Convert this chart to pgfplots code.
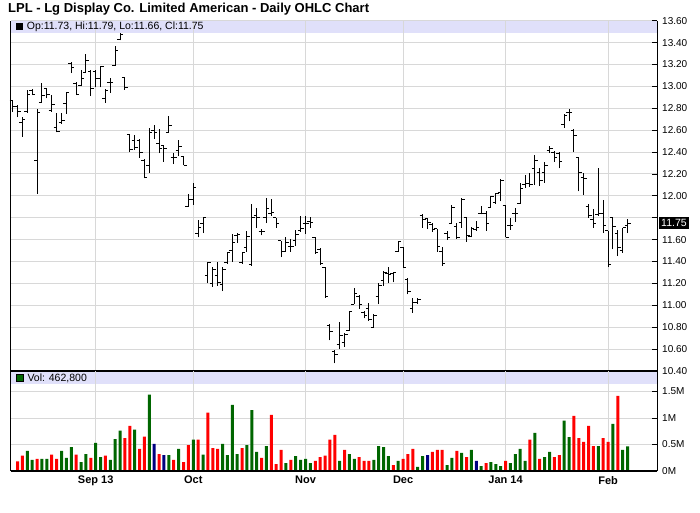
\documentclass[border=0pt]{standalone}
\usepackage{fontspec}
\setmainfont{Liberation Sans}
\usepackage{pgfplots}
\usepackage{pgfplotstable}
\pgfplotsset{compat=1.18}
\definecolor{bandc}{RGB}{224,224,250}
\definecolor{gridc}{RGB}{216,216,216}
\definecolor{vgreen}{RGB}{0,102,0}
\definecolor{vred}{RGB}{255,0,0}
\definecolor{vnavy}{RGB}{0,0,128}
\pgfdeclareplotmark{ohlcopen}{\pgfpathmoveto{\pgfqpoint{-3pt}{0pt}}\pgfpathlineto{\pgfqpoint{0pt}{0pt}}\pgfusepathqstroke}
\pgfdeclareplotmark{ohlcclose}{\pgfpathmoveto{\pgfqpoint{0pt}{0pt}}\pgfpathlineto{\pgfqpoint{3pt}{0pt}}\pgfusepathqstroke}
\pgfdeclareplotmark{nothing}{}

\pgfplotstableread{
i o h l c
0 12.87 12.88 12.77 12.82
1 12.82 12.83 12.72 12.77
2 12.67 12.72 12.54 12.70
3 12.77 12.97 12.76 12.93
4 12.96 12.98 12.92 12.93
5 12.32 12.79 12.02 12.76
6 12.85 13.03 12.85 12.92
7 12.98 12.98 12.89 12.93
8 12.78 12.92 12.77 12.83
9 12.62 12.76 12.58 12.59
10 12.67 12.76 12.66 12.69
11 12.84 12.95 12.75 12.94
12 13.21 13.22 13.12 13.17
13 13.03 13.04 12.92 12.93
14 13.01 13.15 13.00 13.07
15 13.13 13.30 13.13 13.24
16 13.14 13.15 12.91 12.98
17 13.14 13.15 12.99 13.07
18 13.07 13.19 12.99 13.18
19 12.89 12.98 12.85 12.96
20 13.04 13.08 12.94 13.04
21 13.19 13.37 13.19 13.33
22 13.43 13.49 13.42 13.47
23 13.08 13.08 12.97 12.99
24 12.56 12.56 12.40 12.42
25 12.51 12.56 12.42 12.44
26 12.51 12.52 12.35 12.40
27 12.32 12.34 12.16 12.17
28 12.28 12.62 12.21 12.58
29 12.60 12.65 12.52 12.58
30 12.48 12.61 12.39 12.43
31 12.46 12.46 12.31 12.43
32 12.58 12.73 12.58 12.64
33 12.35 12.39 12.29 12.35
34 12.41 12.51 12.36 12.45
35 12.36 12.36 12.28 12.28
36 11.90 12.02 11.90 11.97
37 11.97 12.12 11.92 12.08
38 11.66 11.78 11.62 11.71
39 11.75 11.80 11.66 11.80
40 11.27 11.40 11.20 11.39
41 11.20 11.35 11.17 11.33
42 11.27 11.40 11.18 11.21
43 11.19 11.35 11.13 11.33
44 11.39 11.49 11.38 11.48
45 11.50 11.65 11.40 11.57
46 11.64 11.66 11.57 11.65
47 11.39 11.49 11.38 11.48
48 11.53 11.68 11.49 11.63
49 11.37 11.93 11.36 11.80
50 11.82 11.89 11.71 11.80
51 11.67 11.70 11.64 11.67
52 11.80 11.98 11.75 11.88
53 11.84 11.97 11.82 11.85
54 11.80 11.80 11.71 11.75
55 11.59 11.59 11.44 11.49
56 11.49 11.62 11.49 11.57
57 11.54 11.61 11.49 11.54
58 11.59 11.69 11.54 11.65
59 11.68 11.82 11.67 11.70
60 11.75 11.82 11.65 11.75
61 11.77 11.81 11.71 11.76
62 11.62 11.62 11.47 11.48
63 11.51 11.52 11.37 11.38
64 11.35 11.35 11.07 11.08
65 10.82 10.83 10.68 10.76
66 10.58 10.59 10.47 10.55
67 10.64 10.85 10.60 10.72
68 10.66 10.75 10.62 10.73
69 10.77 10.95 10.77 10.94
70 11.01 11.16 11.01 11.11
71 11.08 11.09 10.97 11.01
72 10.93 10.95 10.88 10.91
73 10.97 11.02 10.86 10.87
74 10.80 10.92 10.80 10.91
75 11.08 11.20 11.01 11.18
76 11.23 11.31 11.18 11.30
77 11.29 11.35 11.20 11.28
78 11.29 11.30 11.21 11.30
79 11.49 11.59 11.49 11.58
80 11.53 11.53 11.35 11.35
81 11.24 11.25 11.10 11.13
82 10.97 11.07 10.93 11.03
83 11.03 11.07 11.01 11.05
84 11.82 11.83 11.71 11.78
85 11.79 11.80 11.70 11.76
86 11.74 11.75 11.67 11.69
87 11.70 11.70 11.49 11.54
88 11.49 11.53 11.36 11.38
89 11.66 11.68 11.60 11.62
90 11.75 11.92 11.75 11.89
91 11.72 11.75 11.61 11.62
92 11.76 11.98 11.71 11.97
93 11.80 11.81 11.58 11.64
94 11.63 11.72 11.62 11.70
95 11.69 11.77 11.68 11.71
96 11.84 11.91 11.83 11.84
97 11.84 11.86 11.68 11.75
98 11.89 12.00 11.89 11.99
99 11.94 12.03 11.93 12.02
100 12.03 12.15 11.95 12.14
101 11.91 11.91 11.62 11.62
102 11.73 11.80 11.69 11.73
103 11.84 11.89 11.76 11.84
104 11.93 12.12 11.93 12.07
105 12.10 12.19 12.07 12.11
106 12.11 12.21 12.08 12.10
107 12.25 12.37 12.10 12.32
108 12.21 12.25 12.09 12.14
109 12.21 12.31 12.12 12.28
110 12.41 12.46 12.39 12.43
111 12.40 12.41 12.31 12.35
112 12.39 12.40 12.25 12.31
113 12.65 12.75 12.62 12.73
114 12.76 12.79 12.68 12.76
115 12.60 12.61 12.40 12.55
116 12.35 12.35 12.04 12.21
117 12.17 12.21 12.01 12.16
118 11.90 11.93 11.80 11.82
119 11.78 11.88 11.71 11.75
120 11.83 12.25 11.82 11.84
121 11.84 11.96 11.66 11.73
122 11.68 11.68 11.35 11.37
123 11.80 11.80 11.51 11.72
124 11.66 11.69 11.45 11.53
125 11.50 11.71 11.48 11.71
126 11.73 11.79 11.66 11.75
}\price

\begin{document}
\begin{tikzpicture}
\path[use as bounding box] (0pt,0pt) rectangle (700pt,-512pt);
\fill[bandc] (10.7pt,-20.7pt) rectangle (657pt,-32.5pt);
\fill[bandc] (10.7pt,-371.5pt) rectangle (657pt,-384pt);
\node[anchor=west, inner sep=0pt, font=\bfseries\fontsize{13}{15}\selectfont] at (8pt,-9pt) {LPL - Lg Display Co. Limited American - Daily OHLC Chart};

\begin{axis}[
  at={(10.7pt,-20.7pt)}, anchor=north west,
  scale only axis, width=646.3pt, height=350.3pt,
  xmin=-0.41, xmax=132.03, ymin=10.4, ymax=13.6,
  axis line style={draw=none},
  clip=false,
  xtick={17,37,60,80,101,122}, xticklabels={},
  xtick style={draw=none},
  ytick={10.4,10.6,10.8,11.0,11.2,11.4,11.6,11.8,12.0,12.2,12.4,12.6,12.8,13.0,13.2,13.4,13.6},
  yticklabels={10.40,10.60,10.80,11.00,11.20,11.40,11.60,{},12.00,12.20,12.40,12.60,12.80,13.00,13.20,13.40,13.60},
  ytick pos=right, yticklabel pos=right,
  tick align=inside, major tick length=5pt,
  ytick style={black, line width=0.8pt},
  yticklabel style={font=\fontsize{10}{12}\selectfont, anchor=west, inner sep=0pt, xshift=5pt},
  grid=major, major grid style={gridc, line width=1pt},
]
\addplot[only marks, mark=nothing, black, line width=1pt,
  error bars/.cd, y dir=plus, y explicit, error mark=none,
  error bar style={black, line width=1pt}]
  table[x=i, y=l, y error expr=\thisrow{h}-\thisrow{l}] {\price};
\addplot[only marks, mark=ohlcopen, mark options={black, line width=1pt}] table[x=i, y=o] {\price};
\addplot[only marks, mark=ohlcclose, mark options={black, line width=1pt}] table[x=i, y=c] {\price};
\draw[black, line width=1pt] (rel axis cs:0,0) -- (rel axis cs:0,1);
\draw[black, line width=1pt] (rel axis cs:1,0) -- (rel axis cs:1,1);
\draw[black, line width=2pt] (rel axis cs:0,0) -- (rel axis cs:1,0);
\node[fill=black, text=white, anchor=west, inner xsep=2pt, inner ysep=2.5pt, font=\fontsize{10.5}{12}\selectfont] at (axis cs:132.03,11.75) [xshift=2pt] {11.75};
\end{axis}

\node[anchor=west, inner sep=0pt, font=\fontsize{10.5}{12}\selectfont] at (15.7pt,-27pt)
  {\tikz\fill[black] (0,0) rectangle (6.6pt,6.6pt);\hspace{4.4pt}Op:11.73, Hi:11.79, Lo:11.66, Cl:11.75};
\node[anchor=west, inner sep=0pt, font=\fontsize{10.5}{12}\selectfont] at (15.7pt,-378pt)
  {\tikz\filldraw[fill=vgreen, draw=black, line width=0.6pt] (0,0) rectangle (6.6pt,6.6pt);\hspace{4.4pt}Vol: 462,800};

\begin{axis}[
  at={(10.7pt,-371pt)}, anchor=north west,
  scale only axis, width=646.3pt, height=100pt,
  xmin=-0.41, xmax=132.03, ymin=0, ymax=1.887,
  axis line style={draw=none},
  clip=false,
  xtick={17,37,60,80,101,122},
  xticklabels={Sep 13,Oct,Nov,Dec,Jan 14,Feb},
  xtick style={draw=none},
  xticklabel style={font=\bfseries\fontsize{11}{13}\selectfont, anchor=north, inner sep=0pt, yshift=-5pt},
  ytick={0,0.5,1,1.5}, yticklabels={0M,0.5M,1M,1.5M},
  ytick pos=right, yticklabel pos=right,
  tick align=inside, major tick length=5pt,
  ytick style={black, line width=0.8pt},
  yticklabel style={font=\fontsize{10}{12}\selectfont, anchor=west, inner sep=0pt, xshift=5pt},
  grid=major, major grid style={gridc, line width=1pt},
]
\addplot[ybar, bar width=3pt, bar shift=0pt, fill=vgreen, draw=none] coordinates {
(3,0.38) (4,0.21) (6,0.23) (7,0.23) (10,0.38) (11,0.25) (12,0.45) (14,0.17) (15,0.32) (17,0.53) (18,0.26) (20,0.21) (21,0.60) (22,0.76) (25,0.78) (28,1.44) (32,0.30) (34,0.42) (37,0.59) (39,0.31) (43,0.51) (44,0.30) (45,1.25) (46,0.32) (48,0.49) (49,1.15) (50,0.36) (52,0.47) (56,0.15) (58,0.28) (59,0.21) (60,0.23) (61,0.15) (67,0.19) (69,0.32) (70,0.23) (74,0.21) (75,0.47) (76,0.45) (77,0.28) (79,0.19) (83,0.08) (84,0.28) (89,0.11) (90,0.25) (92,0.34) (94,0.40) (96,0.09) (98,0.17) (99,0.13) (100,0.09) (102,0.15) (103,0.32) (104,0.42) (105,0.19) (107,0.72) (109,0.26) (110,0.36) (113,0.95) (114,0.64) (120,0.47) (123,0.89) (125,0.40) (126,0.4628)};
\addplot[ybar, bar width=3pt, bar shift=0pt, fill=vred, draw=none] coordinates {
(1,0.18) (2,0.29) (5,0.23) (8,0.31) (9,0.23) (13,0.31) (16,0.25) (19,0.29) (23,0.62) (24,0.85) (26,0.42) (27,0.65) (30,0.32) (33,0.21) (35,0.17) (36,0.49) (38,0.59) (40,1.10) (41,0.43) (42,0.42) (47,0.43) (51,0.25) (53,1.06) (54,0.13) (55,0.40) (57,0.21) (62,0.19) (63,0.26) (64,0.29) (65,0.59) (66,0.68) (68,0.40) (71,0.26) (72,0.19) (73,0.19) (78,0.11) (80,0.23) (81,0.32) (82,0.42) (86,0.36) (87,0.40) (88,0.40) (91,0.38) (93,0.26) (97,0.15) (101,0.19) (106,0.59) (108,0.23) (111,0.26) (112,0.30) (115,1.04) (116,0.62) (117,0.55) (118,0.85) (119,0.47) (121,0.62) (122,0.55) (124,1.42)};
\addplot[ybar, bar width=3pt, bar shift=0pt, fill=vnavy, draw=none] coordinates {
(29,0.51) (31,0.30) (85,0.30) (95,0.19)};
\draw[black, line width=1pt] (rel axis cs:0,0) -- (rel axis cs:0,1);
\draw[black, line width=1pt] (rel axis cs:1,0) -- (rel axis cs:1,1);
\draw[black, line width=1.2pt] (rel axis cs:0,0) -- (rel axis cs:1,0);
\end{axis}
\end{tikzpicture}
\end{document}
